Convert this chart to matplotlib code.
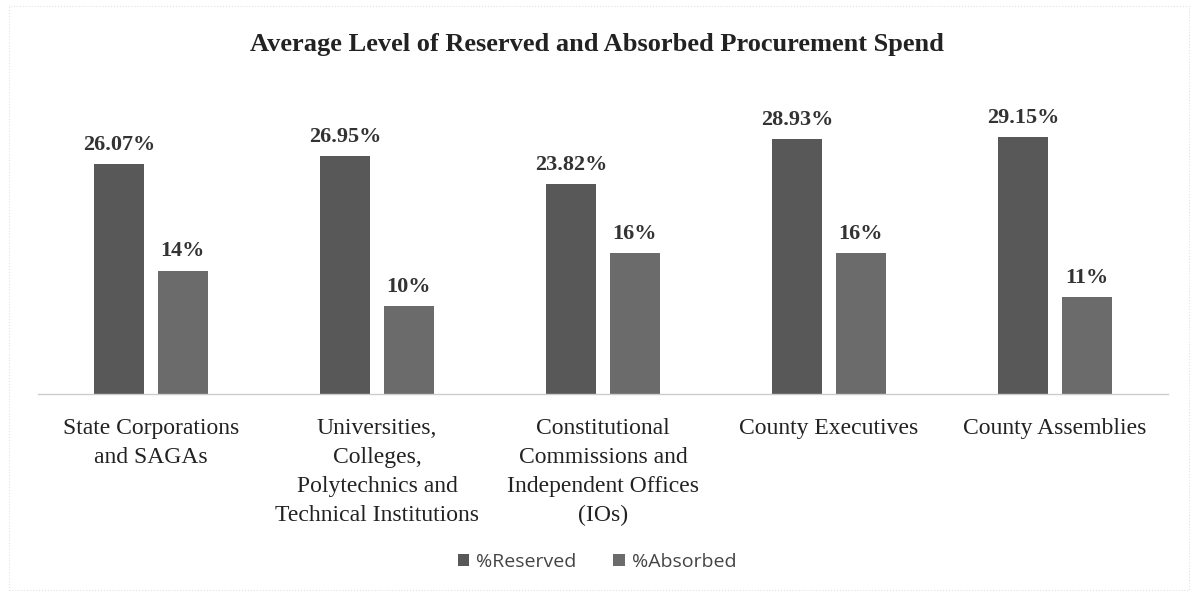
import matplotlib
matplotlib.use("Agg")
import matplotlib.pyplot as plt
import numpy as np
from matplotlib.patches import Rectangle

categories = ["State Corporations\nand SAGAs",
              "Universities,\nColleges,\nPolytechnics and\nTechnical Institutions",
              "Constitutional\nCommissions and\nIndependent Offices\n(IOs)",
              "County Executives",
              "County Assemblies"]
reserved = [26.07, 26.95, 23.82, 28.93, 29.15]
absorbed = [14, 10, 16, 16, 11]
reserved_labels = ["26.07%", "26.95%", "23.82%", "28.93%", "29.15%"]
absorbed_labels = ["14%", "10%", "16%", "16%", "11%"]

fig = plt.figure(figsize=(11.94, 5.92), dpi=100)
fig.patches.append(Rectangle((9/1194, 0.004), 1180/1194, 1 - 6/592 - 0.004,
                             transform=fig.transFigure, fill=False,
                             edgecolor="#e2e2e8", linewidth=0.8, linestyle=":"))
ax = fig.add_axes([38/1194, 1 - 394/592, 1130/1194, 294/592])

x = np.arange(len(categories))
w = 0.222
off = 0.141
c_res = "#585858"
c_abs = "#6b6b6b"
b1 = ax.bar(x - off, reserved, w, color=c_res, label="%Reserved")
b2 = ax.bar(x + off, absorbed, w, color=c_abs, label="%Absorbed")

serif = ["Liberation Serif", "DejaVu Serif"]
for xi, v, t in zip(x, reserved, reserved_labels):
    ax.text(xi - off, v + 1.05, t, ha="center", va="bottom", fontsize=16,
            fontweight="bold", family=serif, color="#333333")
for xi, v, t in zip(x, absorbed, absorbed_labels):
    ax.text(xi + off, v + 1.05, t, ha="center", va="bottom", fontsize=16,
            fontweight="bold", family=serif, color="#333333")

ax.set_xlim(-0.5, len(categories) - 0.5)
ax.set_ylim(0, 294/8.82)
ax.set_yticks([])
ax.set_xticks(x)
ax.set_xticklabels(categories, fontsize=17, family=serif, color="#222222",
                   linespacing=1.5)
ax.tick_params(axis="x", length=0, pad=17)
for s in ["top", "right", "left"]:
    ax.spines[s].set_visible(False)
ax.spines["bottom"].set_color("#cccccc")
ax.spines["bottom"].set_linewidth(1)

fig.text(0.5, 1 - 45/592, "Average Level of Reserved and Absorbed Procurement Spend",
         ha="center", va="center", fontsize=19, fontweight="bold", family=serif,
         color="#222222")

leg = fig.legend(handles=[b1, b2], loc="center", bbox_to_anchor=(0.5, 1 - 562/592),
                 ncol=2, frameon=False, handlelength=0.6,
                 handleheight=0.6, handletextpad=0.35, columnspacing=1.9,
                 prop={"family": "Open Sans", "size": 14})
for t in leg.get_texts():
    t.set_color("#444444")

fig.savefig("out.png", dpi=100, facecolor="white")
